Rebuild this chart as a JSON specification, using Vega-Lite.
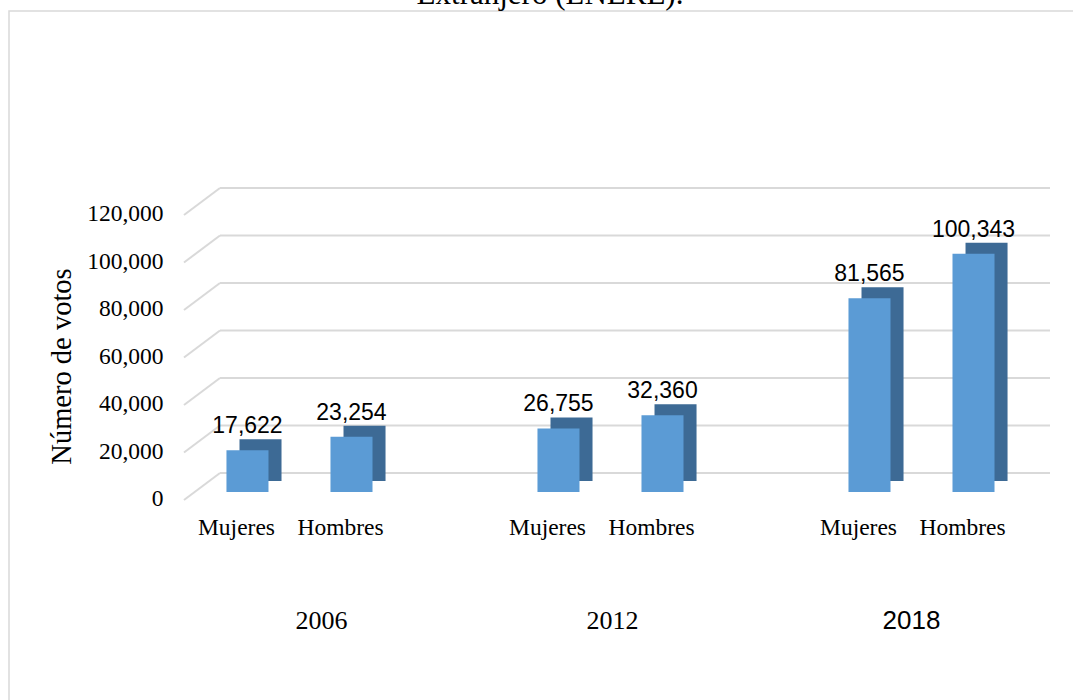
{
  "$schema": "https://vega.github.io/schema/vega-lite/v6.json",
  "width": 1068,
  "height": 692,
  "autosize": "none",
  "padding": {"left": 9, "top": 11, "right": 0, "bottom": 0},
  "background": "white",
  "config": {"view": {"stroke": "#D9D9D9", "strokeWidth": 1.5}},
  "title": {"text": "Extranjero (LNERE).", "font": "Liberation Serif", "fontSize": 31, "fontWeight": "normal", "color": "black", "baseline": "alphabetic", "offset": -24, "anchor": "middle", "dx": 7},
  "resolve": {"scale": {"xOffset": "independent"}},
  "datasets": {
    "votos": [
      {"anio": "2006", "sexo": "Mujeres", "votos": 17622},
      {"anio": "2006", "sexo": "Hombres", "votos": 23254},
      {"anio": "2012", "sexo": "Mujeres", "votos": 26755},
      {"anio": "2012", "sexo": "Hombres", "votos": 32360},
      {"anio": "2018", "sexo": "Mujeres", "votos": 81565},
      {"anio": "2018", "sexo": "Hombres", "votos": 100343}
    ],
    "ticks": [
      {"votos": 0}, {"votos": 20000}, {"votos": 40000}, {"votos": 60000},
      {"votos": 80000}, {"votos": 100000}, {"votos": 120000}
    ]
  },
  "encoding": {
    "x": {
      "field": "anio", "type": "nominal",
      "scale": {"domain": ["2006", "2012", "2018"], "paddingInner": 0, "paddingOuter": 0.217, "align": 1},
      "axis": {
        "title": null, "orient": "bottom", "offset": -211, "ticks": false, "domain": false, "grid": false,
        "labelPadding": 128, "labelBaseline": "middle", "labelAngle": 0, "labelFontSize": 26, "labelColor": "black",
        "labelFont": {"condition": {"test": "datum.value === '2018'", "value": "Liberation Sans"}, "value": "Liberation Serif"},
        "labelOffset": {"condition": [{"test": "datum.value === '2006'", "value": 22}, {"test": "datum.value === '2018'", "value": -10}], "value": 2}
      }
    },
    "y": {
      "field": "votos", "type": "quantitative",
      "scale": {"domain": [-88842, 202526], "nice": false, "zero": false},
      "axis": {
        "title": "Número de votos", "values": [0, 20000, 40000, 60000, 80000, 100000, 120000], "format": ",d",
        "grid": false, "domain": false, "ticks": false, "offset": -154, "labelPadding": 0, "labelOffset": 7,
        "labelFont": "Liberation Serif", "labelFontSize": 23.5, "labelColor": "black",
        "titleFont": "Liberation Serif", "titleFontSize": 28.5, "titleFontWeight": "normal", "titleColor": "black",
        "titlePadding": 10, "titleY": 355
      }
    }
  },
  "layer": [
    {
      "data": {"name": "ticks"},
      "mark": {"type": "rule", "color": "#D9D9D9", "strokeWidth": 2, "xOffset": 76, "x2Offset": -27, "yOffset": -19, "y2Offset": -19},
      "encoding": {
        "x": {"datum": "2006", "type": "nominal", "bandPosition": 0},
        "x2": {"datum": "2018", "bandPosition": 1}
      }
    },
    {
      "data": {"name": "ticks"},
      "mark": {"type": "rule", "color": "#D9D9D9", "strokeWidth": 2, "xOffset": 40, "x2Offset": 76, "yOffset": 8, "y2Offset": -19},
      "encoding": {
        "x": {"datum": "2006", "type": "nominal", "bandPosition": 0},
        "x2": {"datum": "2006", "bandPosition": 0},
        "y2": {"field": "votos"}
      }
    },
    {
      "data": {"name": "votos"},
      "mark": {"type": "bar", "color": "#3D6A95", "yOffset": -11, "y2Offset": -11},
      "encoding": {
        "xOffset": {"field": "sexo", "type": "nominal", "sort": ["Mujeres", "Hombres"], "scale": {"type": "band", "paddingInner": 0.596, "paddingOuter": 0.793, "align": 0.579}}
      }
    },
    {
      "data": {"name": "votos"},
      "mark": {"type": "bar", "color": "#5B9BD5"},
      "encoding": {
        "xOffset": {"field": "sexo", "type": "nominal", "sort": ["Mujeres", "Hombres"], "scale": {"type": "band", "paddingInner": 0.596, "paddingOuter": 0.793}}
      }
    },
    {
      "data": {"name": "votos"},
      "mark": {"type": "text", "font": "Liberation Sans", "fontSize": 23, "baseline": "alphabetic", "align": "center", "dy": -17, "color": "black"},
      "encoding": {
        "xOffset": {"field": "sexo", "type": "nominal", "sort": ["Mujeres", "Hombres"], "scale": {"type": "band", "paddingInner": 0.596, "paddingOuter": 0.793}},
        "text": {"field": "votos", "type": "quantitative", "format": ",d"}
      }
    },
    {
      "data": {"name": "votos"},
      "mark": {"type": "text", "font": "Liberation Serif", "fontSize": 23.5, "baseline": "middle", "align": "center", "dy": 36, "dx": -11, "color": "black"},
      "encoding": {
        "xOffset": {"field": "sexo", "type": "nominal", "sort": ["Mujeres", "Hombres"], "scale": {"type": "band", "paddingInner": 0.596, "paddingOuter": 0.793}},
        "y": {"datum": 0, "type": "quantitative"},
        "text": {"field": "sexo", "type": "nominal"}
      }
    }
  ]
}
